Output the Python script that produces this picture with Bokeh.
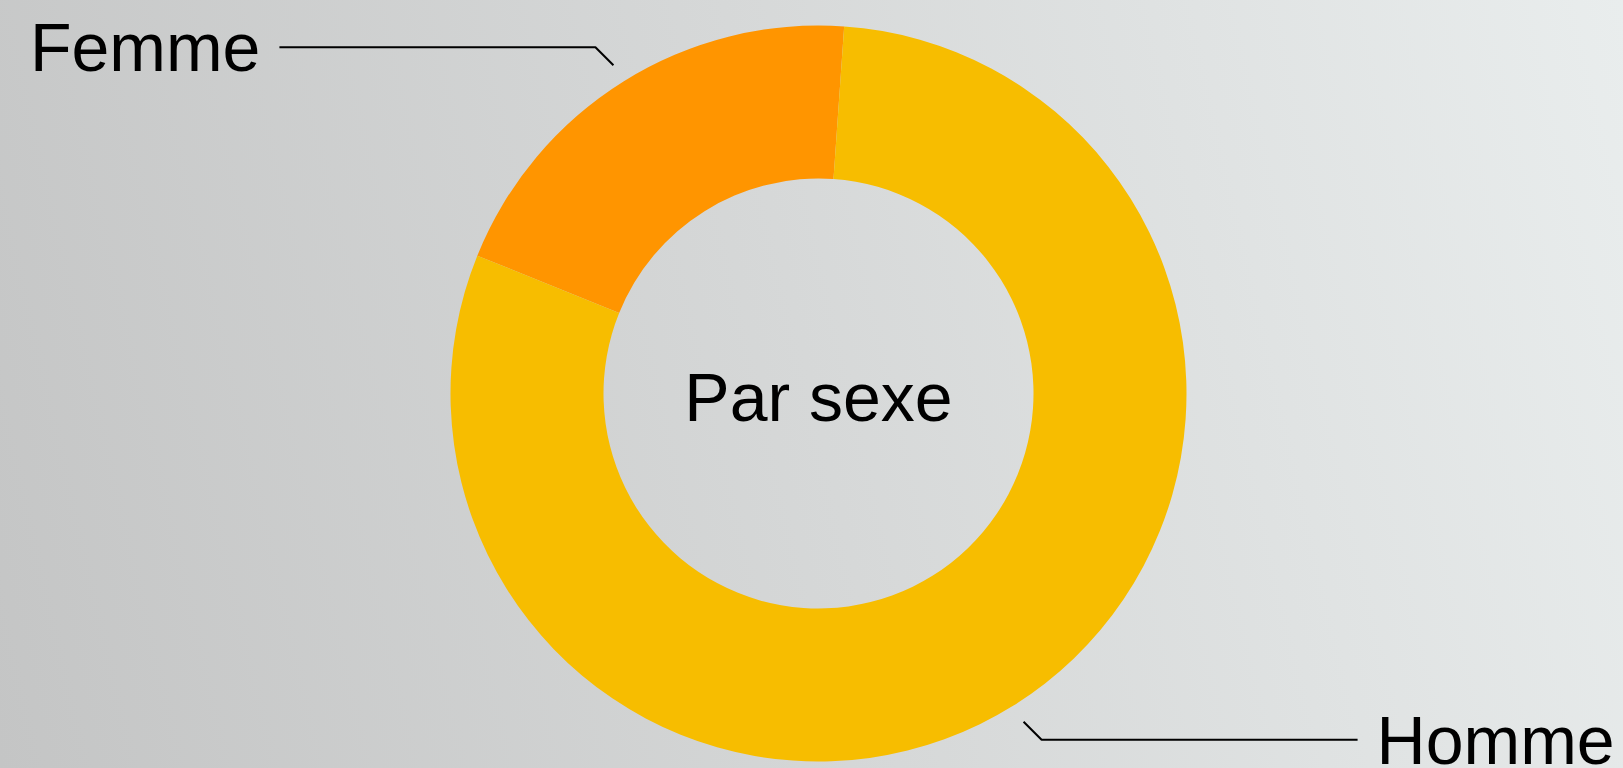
import math
from bokeh.plotting import figure
from bokeh.models import Range1d, ColumnDataSource
from bokeh.core.properties import value
from bokeh.embed import file_html
from bokeh.resources import INLINE

# ---- data ----
categories = ["Femme", "Homme"]
values = [20, 80]
colors = ["#ff9500", "#f7bd00"]
center_label = "Par sexe"

# ---- layout constants (reference pixel space; y measured from bottom) ----
W, H = 1623, 768
CX, CY = 818, H - 393
R_OUT, R_IN = 368, 215
START_DEG = 86.0  # first slice starts here, anticlockwise
FONT = "Liberation Sans"
FSIZE = "68px"

p = figure(width=W, height=H, output_backend="svg", toolbar_location=None,
           x_range=Range1d(0, W), y_range=Range1d(0, H), min_border=0)
p.axis.visible = False
p.grid.visible = False
p.outline_line_color = None
p.background_fill_color = None
p.border_fill_color = None
p.styles = {"background": "linear-gradient(77deg, #c4c5c5 0%, #d6d8d8 50%, #e9eded 100%)"}

total = float(sum(values))
starts, ends, mids = [], [], []
a = math.radians(START_DEG)
for v in values:
    span = 2 * math.pi * v / total
    starts.append(a)
    ends.append(a + span)
    mids.append(a + span / 2)
    a += span

src = ColumnDataSource(dict(cat=categories, val=values, color=colors, start=starts, end=ends))
p.annular_wedge(x=CX, y=CY, inner_radius=R_IN, outer_radius=R_OUT,
                start_angle="start", end_angle="end", direction="anticlock",
                fill_color="color", line_color=None, source=src)

# leader lines and labels
for cat, m in zip(categories, mids):
    c, s = math.cos(m), math.sin(m)
    sx = 1 if c >= 0 else -1
    sy = 1 if s >= 0 else -1
    x0, y0 = CX + (R_OUT + 19) * c, CY + (R_OUT + 19) * s
    x1, y1 = x0 + 18 * sx, y0 + 18 * sy
    x2, y2 = x1 + 316 * sx, y1
    p.line([x0, x1, x2], [y0, y1, y2], line_color="black", line_width=2)
    p.text(x=[x2 + 19 * sx], y=[y2], text=[cat],
           text_align="left" if sx > 0 else "right", text_baseline="middle",
           text_font=value(FONT), text_font_size=FSIZE, text_color="black")

p.text(x=[CX], y=[CY - 3.5], text=[center_label], text_align="center",
       text_baseline="middle", text_font=value(FONT), text_font_size=FSIZE,
       text_color="black")

open("out.html", "w").write(file_html(p, INLINE))
